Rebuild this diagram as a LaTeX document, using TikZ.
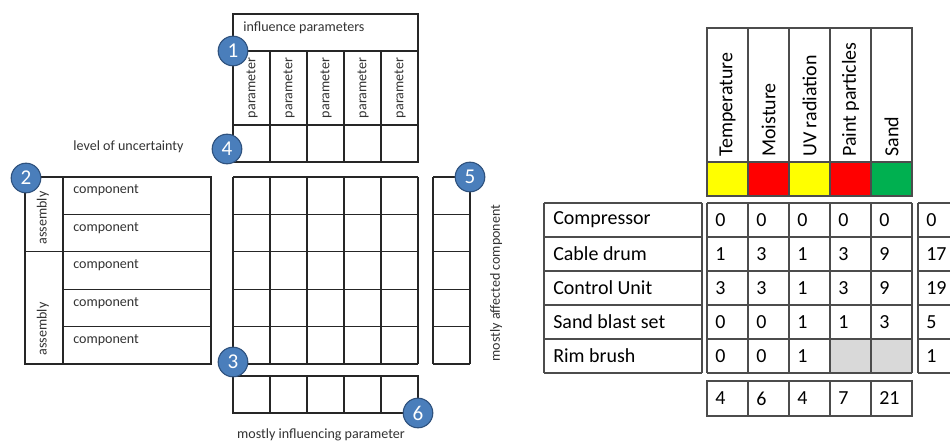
\documentclass[tikz,border=0pt]{standalone}
\usepackage{fontspec}
\setmainfont{Carlito}
\usetikzlibrary{positioning}

\definecolor{markblue}{RGB}{74,126,187}
\definecolor{markedge}{RGB}{47,82,126}
\definecolor{lowyellow}{RGB}{255,255,0}
\definecolor{highred}{RGB}{255,0,0}
\definecolor{okgreen}{RGB}{0,176,80}
\definecolor{nodata}{RGB}{217,217,217}

\tikzset{
  cell/.style={line width=0.8pt, draw=black!85},
  tabcell/.style={line width=0.9pt, draw=black!70},
  smalltext/.style={font=\fontsize{10}{12}\selectfont, text=black!80, inner sep=0pt},
  bigtext/.style={font=\fontsize{14.2}{17}\selectfont, inner sep=0pt},
  marker/.style={circle, fill=markblue, draw=markedge, line width=0.8pt,
    minimum size=7.4mm, inner sep=0pt, text=white, font=\fontsize{15}{15}\selectfont}
}

\begin{document}
\begin{tikzpicture}[x=0.25mm, y=-0.25mm]
\useasboundingbox (0,0) rectangle (950,442);

% -----------------------------
% Scheme: influence parameters
% -----------------------------
\draw[cell] (233,14) rectangle (418,162);
\draw[cell] (233,51) -- (418,51);
\draw[cell] (233,125) -- (418,125);
\foreach \i in {1,...,4}
    \draw[cell] ({233+37*\i},51) -- ({233+37*\i},162);

\node[smalltext, anchor=west] (infl) at (243,28) {influence parameters};
\foreach \i in {0,...,4}
    \node[smalltext, rotate=90] (par\i) at ({252+37*\i},88) {parameter};

\node[smalltext] (uncert) at (128.5,147) {level of uncertainty};

% -----------------------------
% Scheme: components and matrix
% -----------------------------
\draw[cell] (25,177) rectangle (211,364);
\draw[cell] (63,177) -- (63,364);
\draw[cell] (25,251.8) -- (211,251.8);
\foreach \j in {1,3,4}
    \draw[cell] (63,{177+37.4*\j}) -- (211,{177+37.4*\j});

\foreach \j in {0,...,4}
    \node[smalltext, anchor=west] (comp\j) at (73,{190.5+37.4*\j}) {component};
\node[smalltext, rotate=90] (asm1) at (43,218) {assembly};
\node[smalltext, rotate=90] (asm2) at (43,329) {assembly};

% matrix
\foreach \j in {0,...,5}
    \draw[cell] (233,{177+37.4*\j}) -- (418,{177+37.4*\j});
\foreach \i in {0,...,5}
    \draw[cell] ({233+37*\i},177) -- ({233+37*\i},364);

% mostly affected component
\foreach \j in {0,...,5}
    \draw[cell] (433,{177+37.4*\j}) -- (470,{177+37.4*\j});
\draw[cell] (433,177) -- (433,364);
\draw[cell] (470,177) -- (470,364);
\node[smalltext, rotate=90] (affected) at (496,283) {mostly affected component};

% mostly influencing parameter
\draw[cell] (233,376) rectangle (418,413);
\foreach \i in {1,...,4}
    \draw[cell] ({233+37*\i},376) -- ({233+37*\i},413);
\node[smalltext] (influencing) at (321,435) {mostly influencing parameter};

% numbered markers
\node[marker] (m1) at (233,51) {1};
\node[marker] (m2) at (26,178) {2};
\node[marker] (m3) at (233,362) {3};
\node[marker] (m4) at (227,149) {4};
\node[marker] (m5) at (470,177) {5};
\node[marker] (m6) at (418,413) {6};

% -----------------------------
% Example: blasting machine
% -----------------------------
\draw[tabcell] (707,28) rectangle (912,196);
\foreach \i/\col in {0/lowyellow,1/highred,2/lowyellow,3/highred,4/okgreen}
    \draw[tabcell, fill=\col] ({707+41*\i},162) rectangle ({748+41*\i},196);
\foreach \i in {1,...,4}
    \draw[tabcell] ({707+41*\i},28) -- ({707+41*\i},162);
\foreach \p [count=\i from 0] in {Temperature,Moisture,UV radiation,Paint particles,Sand}
    \node[bigtext, rotate=90, anchor=west] (head\i) at ({727.5+41*\i},157) {\p};

% component names
\foreach \j in {0,...,5}
    \draw[tabcell] (544,{203+34*\j}) -- (702,{203+34*\j});
\draw[tabcell] (544,203) -- (544,373);
\draw[tabcell] (702,203) -- (702,373);
\foreach \n [count=\j from 0] in {Compressor,Cable drum,Control Unit,Sand blast set,Rim brush}
    \node[bigtext, anchor=west] (name\j) at (553,{220+34*\j}) {\n};

% values
\fill[nodata] (830,339) rectangle (912,373);
\foreach \j in {0,...,5}
    \draw[tabcell] (707,{203+34*\j}) -- (912,{203+34*\j});
\foreach \i in {0,...,5}
    \draw[tabcell] ({707+41*\i},203) -- ({707+41*\i},373);
\foreach \a/\b/\c/\d/\e [count=\j from 0] in {0/0/0/0/0,1/3/1/3/9,3/3/1/3/9,0/0/1/1/3}{
    \node[bigtext, anchor=west] (v\j a) at (715,{220+34*\j}) {\a};
    \node[bigtext, anchor=west] (v\j b) at (756,{220+34*\j}) {\b};
    \node[bigtext, anchor=west] (v\j c) at (797,{220+34*\j}) {\c};
    \node[bigtext, anchor=west] (v\j d) at (838,{220+34*\j}) {\d};
    \node[bigtext, anchor=west] (v\j e) at (879,{220+34*\j}) {\e};
}
\node[bigtext, anchor=west] (v4a) at (715,356) {0};
\node[bigtext, anchor=west] (v4b) at (756,356) {0};
\node[bigtext, anchor=west] (v4c) at (797,356) {1};

% row sums (cut at the edge)
\foreach \j in {0,...,5}
    \draw[tabcell] (918,{203+34*\j}) -- (950,{203+34*\j});
\draw[tabcell] (918,203) -- (918,373);
\foreach \t [count=\j from 0] in {0,17,19,5,1}
    \node[bigtext, anchor=west] (sum\j) at (926,{220+34*\j}) {\t};

% column sums
\draw[tabcell] (707,381) rectangle (912,416);
\foreach \i in {1,...,4}
    \draw[tabcell] ({707+41*\i},381) -- ({707+41*\i},416);
\foreach \t [count=\i from 0] in {4,6,4,7,21}
    \node[bigtext, anchor=west] (col\i) at ({715+41*\i},398.5) {\t};

\end{tikzpicture}
\end{document}
